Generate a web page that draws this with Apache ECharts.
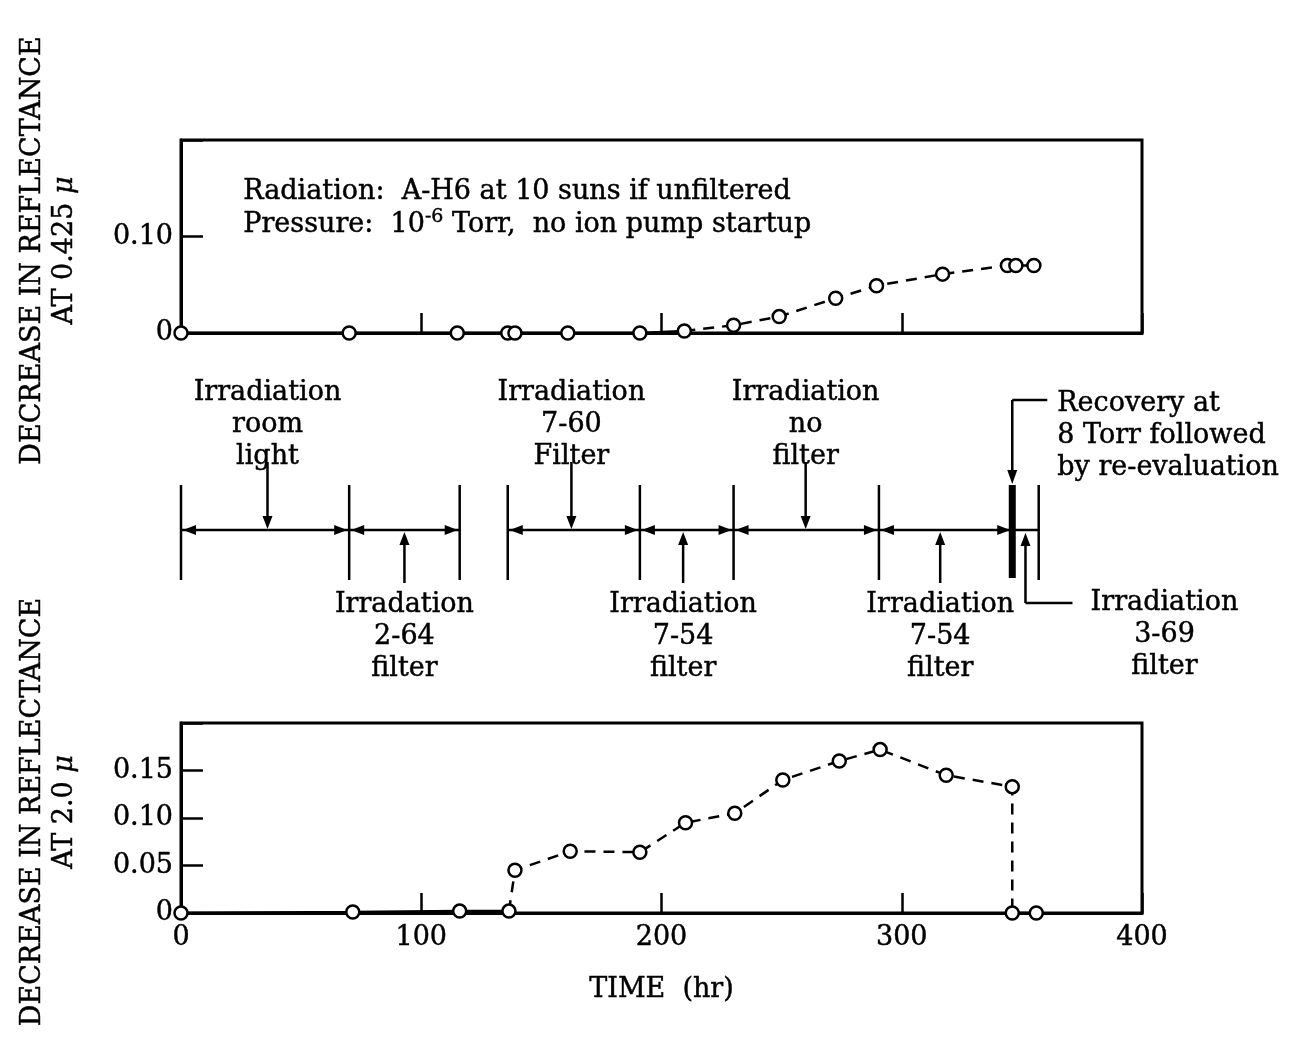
<!DOCTYPE html>
<html>
<head>
<meta charset="utf-8">
<script src="https://cdn.jsdelivr.net/npm/echarts@6/dist/echarts.min.js"></script>
<style>
  html, body { margin: 0; padding: 0; background: #fff; }
  #chart { width: 1300px; height: 1039px; }
</style>
</head>
<body>
<div id="chart"></div>
<script>
// ---- Measured data -------------------------------------------------------
// Decrease in reflectance at 0.425 micron vs. exposure time (hr)
const timeTop = [0, 70, 115, 136, 139, 161, 191, 209.5, 230, 249, 272.5, 289.5, 317, 344, 347.5, 355];
const reflTop = [0, 0, 0, 0, 0, 0, 0, 0.002, 0.008, 0.017, 0.036, 0.049, 0.061, 0.070, 0.070, 0.070];
const topSolidEnd = 7;          // points 0..7 joined by a solid line, dashed afterwards

// Decrease in reflectance at 2.0 micron vs. exposure time (hr)
const timeBot = [0, 71.5, 116, 136.5, 139, 162, 191, 210, 230.5, 250.5, 274, 291, 318.5, 346, 346, 356];
const reflBot = [0, 0.001, 0.002, 0.002, 0.045, 0.065, 0.064, 0.095, 0.105, 0.140, 0.160, 0.172, 0.145, 0.133, 0, 0];
const botDashStart = 3;         // dashed from point 3 ...
const botDashEnd = 14;          // ... through point 14, solid after

// Exposure schedule: boundaries (hr) of consecutive phases, in two runs
const scheduleRuns = [[0, 70, 116], [136, 191, 230, 290.5, 346, 357]];
const recoveryAt = 346;

// Phase markers (hr) and their captions
const phaseHours = [36, 93, 162.5, 209, 260, 316, 346, 351.5];
const phaseLabels = [
  'Irradiation\nroom\nlight',
  'Irradation\n2-64\nfilter',
  'Irradiation\n7-60\nFilter',
  'Irradiation\n7-54\nfilter',
  'Irradiation\nno\nfilter',
  'Irradiation\n7-54\nfilter',
  'Recovery at\n8 Torr followed\nby re-evaluation',
  'Irradiation\n3-69\nfilter'
];
const phaseKinds = ['above', 'below', 'above', 'below', 'above', 'below', 'leaderAbove', 'leaderBelow'];

const xTicks = [0, 100, 200, 300, 400];

// ---- Helpers -------------------------------------------------------------
const FONT = "'DejaVu Serif'";
const FSIZE = 27;
const INK = '#000';
const EDGE = 0.45;   // thin outline so the regular face prints a little heavier
const HEAVY = { textBorderColor: INK, textBorderWidth: EDGE };
const pairs = (xs, ys, a, b) => xs.slice(a, b).map((x, i) => [x, ys[a + i]]);

const LINE_Y = 530;      // schedule line
const BAR_TOP = 485, BAR_BOT = 580;

function tri(tipX, tipY, dir, len, half) {
  // dir: 'l','r','u','d' -> direction the tip points
  let pts;
  if (dir === 'l') pts = [[tipX, tipY], [tipX + len, tipY - half], [tipX + len, tipY + half]];
  else if (dir === 'r') pts = [[tipX, tipY], [tipX - len, tipY - half], [tipX - len, tipY + half]];
  else if (dir === 'd') pts = [[tipX, tipY], [tipX - half, tipY - len], [tipX + half, tipY - len]];
  else pts = [[tipX, tipY], [tipX - half, tipY + len], [tipX + half, tipY + len]];
  return { type: 'polygon', shape: { points: pts }, style: { fill: INK } };
}
function seg(x1, y1, x2, y2, w) {
  return { type: 'line', shape: { x1, y1, x2, y2 }, style: { stroke: INK, lineWidth: w || 2.5 } };
}
function label(text, x, y, align) {
  return {
    type: 'text',
    style: {
      text, x, y, align: align || 'center', verticalAlign: 'top',
      fontFamily: FONT, fontSize: FSIZE, lineHeight: 32, fill: INK,
      stroke: INK, lineWidth: EDGE
    }
  };
}

// schedule runs: horizontal line, boundary bars, dimension arrowheads
function renderRun(params, api) {
  const run = scheduleRuns[params.dataIndex];
  const xs = run.map(h => api.coord([h, 0])[0]);
  const children = [seg(xs[0], LINE_Y, xs[xs.length - 1], LINE_Y)];
  run.forEach((h, k) => {
    const thick = h === recoveryAt;
    children.push(seg(xs[k], BAR_TOP, xs[k], thick ? BAR_BOT - 2 : BAR_BOT, thick ? 7 : 2.5));
  });
  for (let k = 0; k + 1 < xs.length; k++) {
    if (xs[k + 1] - xs[k] < 40) continue;
    children.push(tri(xs[k] + 2, LINE_Y, 'l', 13, 5));
    children.push(tri(xs[k + 1] - 2, LINE_Y, 'r', 13, 5));
  }
  return { type: 'group', children };
}

// phase pointers with captions
function renderPhase(params, api) {
  const i = params.dataIndex;
  const x = api.coord([api.value(0), 0])[0];
  const kind = phaseKinds[i];
  const text = phaseLabels[i];
  const ch = [];
  if (kind === 'above') {
    ch.push(seg(x, 462, x, 518), tri(x, LINE_Y - 1, 'd', 13, 5));
    ch.push(label(text, x, 377));
  } else if (kind === 'below') {
    ch.push(seg(x, 583, x, 544), tri(x, LINE_Y + 2, 'u', 13, 5));
    ch.push(label(text, x, 589));
  } else if (kind === 'leaderAbove') {
    ch.push(seg(x + 35, 400, x, 400), seg(x, 400, x, 470), tri(x, BAR_TOP - 1, 'd', 14, 5));
    ch.push(label(text, x + 45, 388, 'left'));
  } else {
    ch.push(seg(x + 47, 603, x, 603), seg(x, 603, x, 546), tri(x, LINE_Y + 3, 'u', 13, 5));
    ch.push(label(text, x + 139, 587));
  }
  return { type: 'group', children: ch };
}

// ---- Chart ---------------------------------------------------------------
const chart = echarts.init(document.getElementById('chart'), null, { renderer: 'canvas' });

const axisFont = Object.assign({ fontFamily: FONT, fontSize: FSIZE, color: INK }, HEAVY);
const boxLine = { show: true, lineStyle: { color: INK, width: 3 } };
const inTick = len => ({ show: true, inside: true, length: len, lineStyle: { color: INK, width: 2.5 } });
const markerStyle = { color: '#fff', borderColor: INK, borderWidth: 2.5, opacity: 1 };
const lineW = 2.5;
const muRich = { mu: Object.assign({ fontFamily: FONT, fontSize: FSIZE, fontStyle: 'italic', color: INK }, HEAVY) };

chart.setOption({
  animation: false,
  backgroundColor: '#fff',
  grid: [
    { left: 181, right: 158, top: 140, height: 193, show: true, borderColor: INK, borderWidth: 3, containLabel: false, outerBoundsMode: 'none' },
    { left: 181, right: 158, top: 380, height: 310, containLabel: false, outerBoundsMode: 'none' },
    { left: 181, right: 158, top: 723, height: 190, show: true, borderColor: INK, borderWidth: 3, containLabel: false, outerBoundsMode: 'none' }
  ],
  xAxis: [
    {
      gridIndex: 0, type: 'value', min: 0, max: 400, interval: 100,
      axisLine: boxLine, axisTick: inTick(20), axisLabel: { show: false }, splitLine: { show: false }
    },
    { gridIndex: 1, type: 'value', min: 0, max: 400, show: false },
    {
      gridIndex: 2, type: 'value', min: 0, max: 400, interval: 100,
      axisLine: boxLine, axisTick: inTick(20), splitLine: { show: false },
      axisLabel: Object.assign({ margin: 11, formatter: v => xTicks.includes(v) ? String(v) : '' }, axisFont),
      name: 'TIME  (hr)', nameLocation: 'middle', nameGap: 63,
      nameTextStyle: Object.assign({}, axisFont)
    }
  ],
  yAxis: [
    {
      gridIndex: 0, type: 'value', min: 0, max: 0.2, interval: 0.1,
      axisLine: boxLine, axisTick: inTick(22), splitLine: { show: false },
      axisLabel: Object.assign({ margin: 8, formatter: v => v === 0 ? '0' : (v > 0.15 ? '' : v.toFixed(2)) }, axisFont),
      name: 'DECREASE IN REFLECTANCE\nAT 0.425 {mu|μ}', nameLocation: 'middle', nameRotate: 90, nameGap: 100,
      nameTextStyle: Object.assign({ lineHeight: 32, padding: [0, 28, 0, 0], rich: muRich }, axisFont)
    },
    { gridIndex: 1, type: 'value', min: 0, max: 1, show: false },
    {
      gridIndex: 2, type: 'value', min: 0, max: 0.2, interval: 0.05,
      axisLine: boxLine, axisTick: inTick(22), splitLine: { show: false },
      axisLabel: Object.assign({ margin: 8, formatter: v => v === 0 ? '0' : (v > 0.175 ? '' : v.toFixed(2)) }, axisFont),
      name: 'DECREASE IN REFLECTANCE\nAT 2.0 {mu|μ}', nameLocation: 'middle', nameRotate: 90, nameGap: 100,
      nameTextStyle: Object.assign({ lineHeight: 32, padding: [0, 0, 0, 12], rich: muRich }, axisFont)
    }
  ],
  graphic: [{
    type: 'text', left: 243, top: 175,
    style: {
      text: 'Radiation:  A-H6 at 10 suns if unfiltered\nPressure:  10{sup|-6} Torr,  no ion pump startup',
      fontFamily: FONT, fontSize: FSIZE, lineHeight: 33, fill: INK, stroke: INK, lineWidth: EDGE,
      rich: { sup: { fontFamily: FONT, fontSize: 19, verticalAlign: 'top', lineHeight: 33, padding: [0, 0, 12, 0], stroke: INK, lineWidth: EDGE } }
    }
  }],
  series: [
    // 0.425 micron panel
    { type: 'line', xAxisIndex: 0, yAxisIndex: 0, data: pairs(timeTop, reflTop, 0, topSolidEnd + 1),
      symbol: 'none', lineStyle: { color: INK, width: lineW }, z: 3 },
    { type: 'line', xAxisIndex: 0, yAxisIndex: 0, data: pairs(timeTop, reflTop, topSolidEnd, timeTop.length),
      symbol: 'none', lineStyle: { color: INK, width: lineW, type: [11, 8] }, z: 3 },
    { type: 'scatter', xAxisIndex: 0, yAxisIndex: 0, data: pairs(timeTop, reflTop, 0, timeTop.length),
      symbol: 'circle', symbolSize: 13, itemStyle: markerStyle, z: 5 },

    // 2.0 micron panel
    { type: 'line', xAxisIndex: 2, yAxisIndex: 2, data: pairs(timeBot, reflBot, 0, botDashStart + 1),
      symbol: 'none', lineStyle: { color: INK, width: lineW }, z: 3 },
    { type: 'line', xAxisIndex: 2, yAxisIndex: 2, data: pairs(timeBot, reflBot, botDashStart, botDashEnd + 1),
      symbol: 'none', lineStyle: { color: INK, width: lineW, type: [11, 8] }, z: 3 },
    { type: 'line', xAxisIndex: 2, yAxisIndex: 2, data: pairs(timeBot, reflBot, botDashEnd, timeBot.length),
      symbol: 'none', lineStyle: { color: INK, width: lineW }, z: 3 },
    { type: 'scatter', xAxisIndex: 2, yAxisIndex: 2, data: pairs(timeBot, reflBot, 0, timeBot.length),
      symbol: 'circle', symbolSize: 13, itemStyle: markerStyle, z: 5 },

    // exposure schedule
    { type: 'custom', xAxisIndex: 1, yAxisIndex: 1, clip: false, silent: true,
      data: scheduleRuns.map(r => [r[0], 0]), renderItem: renderRun },
    { type: 'custom', xAxisIndex: 1, yAxisIndex: 1, clip: false, silent: true,
      data: phaseHours.map(h => [h, 0]), renderItem: renderPhase }
  ]
});
</script>
</body>
</html>
